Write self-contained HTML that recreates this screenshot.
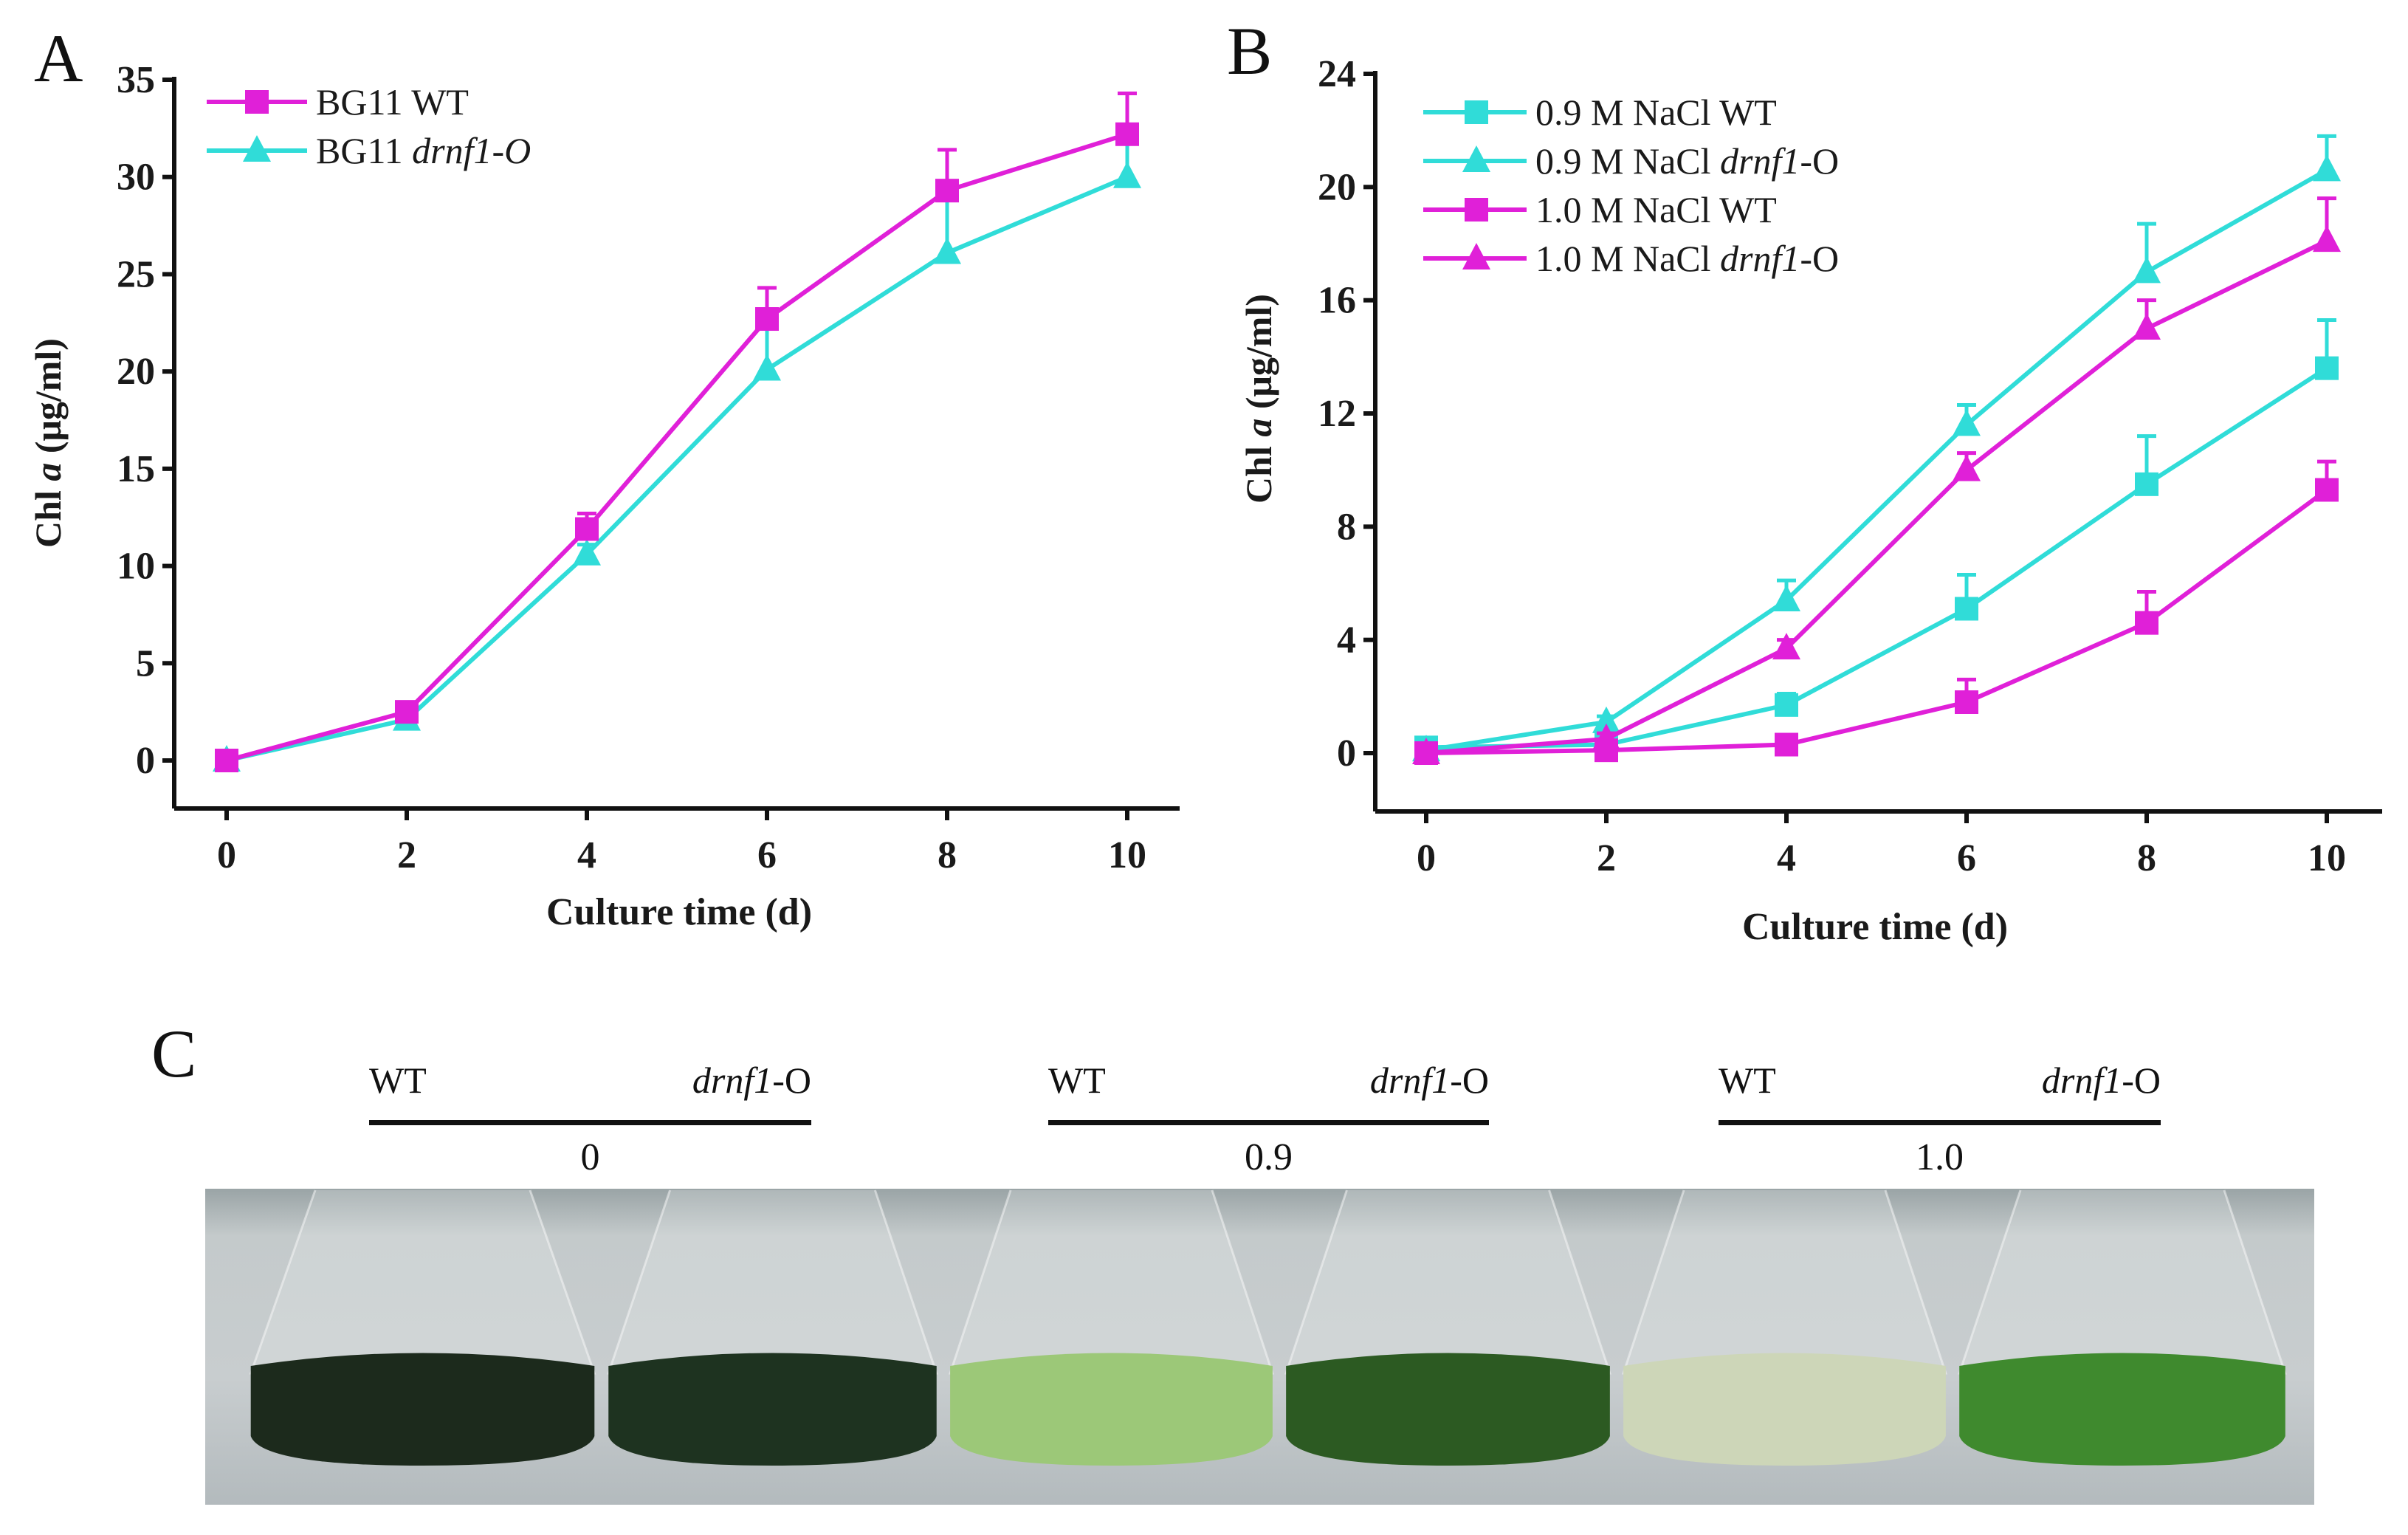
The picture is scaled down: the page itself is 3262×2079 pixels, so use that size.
<!DOCTYPE html>
<html><head><meta charset="utf-8"><style>
html,body{margin:0;padding:0;background:#fff;}
svg{display:block;font-family:"Liberation Serif",serif;}
</style></head><body>
<svg id="fig" width="3262" height="2079" viewBox="0 0 3262 2079">
<defs>
<linearGradient id="bg" x1="0" y1="0" x2="0" y2="1">
<stop offset="0" stop-color="#9aa4a6"/><stop offset="0.15" stop-color="#c4cacb"/><stop offset="0.6" stop-color="#c8cdcf"/><stop offset="1" stop-color="#b3babd"/>
</linearGradient>
</defs>
</svg>
<script>
const NS='http://www.w3.org/2000/svg';
const svg=document.getElementById('fig');
const MAG='#e020d8', CY='#30dcd8';
// ---- Panel A data ----
const aDays=[0,2,4,6,8,10];
const aWT=[0,2.5,11.9,22.7,29.3,32.2];
const aWTerr=[0.3,0.3,0.8,1.6,2.1,2.1];
const aDR=[0,2.1,10.6,20.1,26.1,30.0];
const aDRerr=[0.3,0.3,0.5,2.4,2.9,2.6];
const aYTicks=[0,5,10,15,20,25,30,35];
// ---- Panel B data ----
const bDays=[0,2,4,6,8,10];
const b09WT=[0.2,0.3,1.7,5.1,9.5,13.6];
const b09WTerr=[0.2,0.2,0.4,1.2,1.7,1.7];
const b09DR=[0.1,1.1,5.4,11.6,17.0,20.6];
const b09DRerr=[0.2,0.2,0.7,0.7,1.7,1.2];
const b10WT=[0,0.1,0.3,1.8,4.6,9.3];
const b10WTerr=[0.1,0.1,0.2,0.8,1.1,1.0];
const b10DR=[0,0.5,3.7,10.0,15.0,18.1];
const b10DRerr=[0.1,0.2,0.3,0.6,1.0,1.5];
const bYTicks=[0,4,8,12,16,20,24];

function el(tag,attrs,parent,name,inter){
  const e=document.createElementNS(NS,tag);
  for(const k in attrs)e.setAttribute(k,attrs[k]);
  
  
  (parent||svg).appendChild(e);return e;
}
function txt(x,y,s,size,attrs,name,parent){
  const t=el('text',Object.assign({x:x,y:y,'font-size':size},attrs||{}),parent,name,false);
  t.innerHTML=s;return t;
}
function marker(g,type,x,y,color,name){
  if(type==='sq') el('rect',{x:x-16,y:y-16,width:32,height:32,fill:color},g,name,false);
  else el('polygon',{points:`${x},${y-21} ${x+19},${y+15} ${x-19},${y+15}`,fill:color},g,name,false);
}
function panel(o){
  const g=el('g',{},svg,o.name,false);
  const X=d=>o.x0+(d-o.dmin)/(o.dmax-o.dmin)*(o.x1-o.x0);
  const Y=v=>o.y0-(v-o.vmin)/(o.vmax-o.vmin)*(o.y0-o.y1);
  el('line',{x1:o.ax,y1:o.y1-4,x2:o.ax,y2:o.ab,stroke:'#111','stroke-width':6},g,'y-axis',false);
  el('line',{x1:o.ax,y1:o.ab,x2:o.ar,y2:o.ab,stroke:'#111','stroke-width':6},g,'x-axis',false);
  o.yt.forEach(v=>{
    el('line',{x1:o.ax-16,y1:Y(v),x2:o.ax,y2:Y(v),stroke:'#111','stroke-width':6},g,'y-tick',false);
    txt(o.ax-26,Y(v)+17,v,52,{'text-anchor':'end','font-weight':'bold',fill:'#1a1a1a'},'y-tick-label',g);
  });
  o.days.forEach(d=>{
    el('line',{x1:X(d),y1:o.ab,x2:X(d),y2:o.ab+16,stroke:'#111','stroke-width':6},g,'x-tick',false);
    txt(X(d),o.ab+80,d,52,{'text-anchor':'middle','font-weight':'bold',fill:'#1a1a1a'},'x-tick-label',g);
  });
  o.series.forEach(s=>{
    const sg=el('g',{},g,s.name,false);
    s.v.forEach((v,i)=>{const x=X(o.days[i]),y=Y(v),e=Y(v+s.e[i]);
      el('line',{x1:x,y1:y,x2:x,y2:e,stroke:s.c,'stroke-width':5},sg,'error-bar',false);
      el('line',{x1:x-13,y1:e,x2:x+13,y2:e,stroke:s.c,'stroke-width':5},sg,'error-cap',false);});
    el('polyline',{points:s.v.map((v,i)=>X(o.days[i])+','+Y(v)).join(' '),fill:'none',stroke:s.c,'stroke-width':6},sg,'series-line',false);
    s.v.forEach((v,i)=>marker(sg,s.m,X(o.days[i]),Y(v),s.c,'data-point'));
  });
  return g;
}
// Panel A
panel({name:'panel-a-chart',ax:236,ab:1095,ar:1598,x0:307,x1:1527,dmin:0,dmax:10,y0:1030,y1:108,vmin:0,vmax:35,
 days:aDays,yt:aYTicks,series:[{name:'series-bg11-drnf1',v:aDR,e:aDRerr,c:CY,m:'tri'},{name:'series-bg11-wt',v:aWT,e:aWTerr,c:MAG,m:'sq'}]});
txt(46,110,'A',92,{fill:'#111'},'panel-a-label');
txt(82,600,'Chl <tspan font-style="italic">a</tspan> (μg/ml)',50,{'font-weight':'bold','text-anchor':'middle',transform:'rotate(-90 82 600)',fill:'#1a1a1a'},'y-axis-title-a');
txt(920,1252,'Culture time (d)',52,{'font-weight':'bold','text-anchor':'middle',fill:'#1a1a1a'},'x-axis-title-a');
const legA=[['BG11 WT',MAG,'sq'],['BG11 <tspan font-style="italic">drnf1-O</tspan>',CY,'tri']];
legA.forEach((l,i)=>{const y=138+66*i;const lg=el('g',{},svg,'legend-entry',false);
 el('line',{x1:280,y1:y,x2:416,y2:y,stroke:l[1],'stroke-width':6},lg,'legend-line',false);
 marker(lg,l[2],348,y,l[1],'legend-marker');
 txt(428,y+17,l[0],50,{fill:'#1a1a1a'},'legend-label',lg);});
// Panel B
panel({name:'panel-b-chart',ax:1863,ab:1099,ar:3227,x0:1932,x1:3152,dmin:0,dmax:10,y0:1020,y1:100,vmin:0,vmax:24,
 days:bDays,yt:bYTicks,series:[
 {name:'series-09-wt',v:b09WT,e:b09WTerr,c:CY,m:'sq'},
 {name:'series-09-drnf1',v:b09DR,e:b09DRerr,c:CY,m:'tri'},
 {name:'series-10-wt',v:b10WT,e:b10WTerr,c:MAG,m:'sq'},
 {name:'series-10-drnf1',v:b10DR,e:b10DRerr,c:MAG,m:'tri'}]});
txt(1662,100,'B',92,{fill:'#111'},'panel-b-label');
txt(1722,540,'Chl <tspan font-style="italic">a</tspan> (μg/ml)',50,{'font-weight':'bold','text-anchor':'middle',transform:'rotate(-90 1722 540)',fill:'#1a1a1a'},'y-axis-title-b');
txt(2540,1272,'Culture time (d)',52,{'font-weight':'bold','text-anchor':'middle',fill:'#1a1a1a'},'x-axis-title-b');
const legB=[['0.9 M NaCl WT',CY,'sq'],['0.9 M NaCl <tspan font-style="italic">drnf1</tspan>-O',CY,'tri'],['1.0 M NaCl WT',MAG,'sq'],['1.0 M NaCl <tspan font-style="italic">drnf1</tspan>-O',MAG,'tri']];
legB.forEach((l,i)=>{const y=152+66*i;const lg=el('g',{},svg,'legend-entry',false);
 el('line',{x1:1928,y1:y,x2:2068,y2:y,stroke:l[1],'stroke-width':6},lg,'legend-line',false);
 marker(lg,l[2],2000,y,l[1],'legend-marker');
 txt(2080,y+17,l[0],50,{fill:'#1a1a1a'},'legend-label',lg);});
// Panel C
txt(205,1458,'C',92,{fill:'#111'},'panel-c-label');
const groups=[[500,1099,'0'],[1420,2017,'0.9'],[2328,2927,'1.0']];
groups.forEach(gp=>{const gg=el('g',{},svg,'salt-group-label',false);
 txt(gp[0],1480,'WT',50,{fill:'#111'},'wt-label',gg);
 txt(gp[1],1480,'<tspan font-style="italic">drnf1</tspan>-O',50,{'text-anchor':'end',fill:'#111'},'drnf1-label',gg);
 el('rect',{x:gp[0],y:1517,width:gp[1]-gp[0],height:7,fill:'#111'},gg,'group-line',false);
 txt((gp[0]+gp[1])/2,1584,gp[2],52,{'text-anchor':'middle',fill:'#111'},'nacl-concentration',gg);});
const ph=el('g',{},svg,'flask-photo',false);
el('rect',{x:278,y:1610,width:2857,height:428,fill:'url(#bg)'},ph,'photo-background',false);
const flasks=[[330,815,'#1c2a1c'],[815,1278,'#1e3320'],[1278,1733,'#9cc878'],[1733,2190,'#2c5a22'],[2190,2645,'#cdd6b8'],[2645,3105,'#3f8a2e']];
flasks.forEach(f=>{const fg=el('g',{},ph,'flask',false);
 const w=f[1]-f[0];
 el('path',{d:`M${f[0]+w*0.2},1612 L${f[0]+w*0.02},1860 L${f[1]-w*0.02},1860 L${f[1]-w*0.2},1612`,fill:'rgba(235,240,240,0.25)',stroke:'rgba(250,250,250,0.5)','stroke-width':3},fg,'flask-glass',false);
 el('path',{d:`M${f[0]+w*0.02},1850 Q${f[0]+w/2},1815 ${f[1]-w*0.02},1850 L${f[1]-w*0.02},1945 Q${f[1]-w*0.05},1985 ${f[0]+w/2},1985 Q${f[0]+w*0.05},1985 ${f[0]+w*0.02},1945 Z`,fill:f[2]},fg,'flask-culture',false);
});
</script>
</body></html>
